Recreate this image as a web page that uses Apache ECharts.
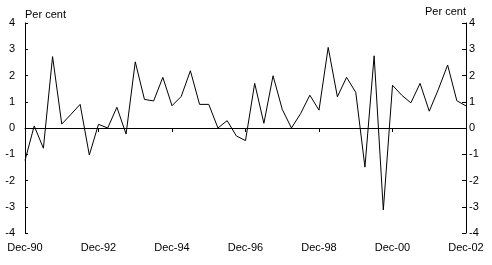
<!DOCTYPE html>
<html>
<head>
<meta charset="utf-8">
<script src="https://cdn.jsdelivr.net/npm/echarts@6/dist/echarts.min.js"></script>
<style>
html,body{margin:0;padding:0;background:#fff;}
#c{width:492px;height:265px;}
</style>
</head>
<body>
<div id="c"></div>
<script>
var categories = [
 'Dec-90','Mar-91','Jun-91','Sep-91','Dec-91','Mar-92','Jun-92','Sep-92',
 'Dec-92','Mar-93','Jun-93','Sep-93','Dec-93','Mar-94','Jun-94','Sep-94',
 'Dec-94','Mar-95','Jun-95','Sep-95','Dec-95','Mar-96','Jun-96','Sep-96',
 'Dec-96','Mar-97','Jun-97','Sep-97','Dec-97','Mar-98','Jun-98','Sep-98',
 'Dec-98','Mar-99','Jun-99','Sep-99','Dec-99','Mar-00','Jun-00','Sep-00',
 'Dec-00','Mar-01','Jun-01','Sep-01','Dec-01','Mar-02','Jun-02','Sep-02',
 'Dec-02'
];
var values = [
 -1.24, 0.08, -0.77, 2.72, 0.15, 0.52, 0.9, -1.03,
 0.14, 0.0, 0.79, -0.23, 2.52, 1.09, 1.03, 1.93,
 0.85, 1.2, 2.18, 0.9, 0.9, 0.0, 0.28, -0.3,
 -0.48, 1.7, 0.18, 1.99, 0.71, 0.0, 0.55, 1.25,
 0.68, 3.07, 1.19, 1.93, 1.36, -1.49, 2.75, -3.12,
 1.63, 1.25, 0.96, 1.7, 0.64, 1.48, 2.4, 1.04,
 0.84
];
var yTicks = [-4, -3, -2, -1, 0, 1, 2, 3, 4];
var yName = 'Per cent';

var font = 'Liberation Sans, Arial, sans-serif';
var chart = echarts.init(document.getElementById('c'), null, {renderer: 'canvas'});
chart.setOption({
  animation: false,
  backgroundColor: '#fff',
  grid: {left: 25, right: 26, top: 23, bottom: 32, containLabel: false},
  xAxis: [
    {
      type: 'category', data: categories, boundaryGap: false, position: 'bottom',
      axisLine: {show: false, onZero: false}, axisTick: {show: false},
      axisLabel: {interval: 7, color: '#000', fontFamily: font, fontSize: 11, margin: 9,
        showMinLabel: true, showMaxLabel: true},
      splitLine: {show: false}
    },
    {
      type: 'category', data: categories, boundaryGap: false, position: 'top',
      axisLine: {show: true, onZero: true, lineStyle: {color: '#000', width: 1}},
      axisTick: {show: true, interval: 7, inside: true, length: 4, lineStyle: {color: '#000'}},
      axisLabel: {show: false},
      splitLine: {show: false}
    }
  ],
  yAxis: [
    {
      type: 'value', min: -4, max: 4, interval: 1, position: 'left',
      name: yName, nameLocation: 'end', nameGap: 3,
      nameTextStyle: {color: '#000', fontFamily: font, fontSize: 11, align: 'left'},
      axisLine: {show: true, lineStyle: {color: '#000', width: 1}},
      axisTick: {show: true, inside: true, length: 3, lineStyle: {color: '#000'}},
      axisLabel: {color: '#000', fontFamily: font, fontSize: 11, margin: 10,
        formatter: function (v) { return yTicks.indexOf(v) >= 0 ? String(v) : ''; }},
      splitLine: {show: false}
    },
    {
      type: 'value', min: -4, max: 4, interval: 1, position: 'right',
      name: yName, nameLocation: 'end', nameGap: 3,
      nameTextStyle: {color: '#000', fontFamily: font, fontSize: 11, align: 'right'},
      axisLine: {show: true, lineStyle: {color: '#000', width: 1}},
      axisTick: {show: true, inside: true, length: 4, lineStyle: {color: '#000'}},
      axisLabel: {color: '#000', fontFamily: font, fontSize: 11, margin: 3,
        formatter: function (v) { return yTicks.indexOf(v) >= 0 ? String(v) : ''; }},
      splitLine: {show: false}
    }
  ],
  series: [{
    type: 'line', data: values, xAxisIndex: 0, yAxisIndex: 0,
    showSymbol: false, symbol: 'none',
    lineStyle: {color: '#000', width: 1},
    z: 3
  }]
});
</script>
</body>
</html>
